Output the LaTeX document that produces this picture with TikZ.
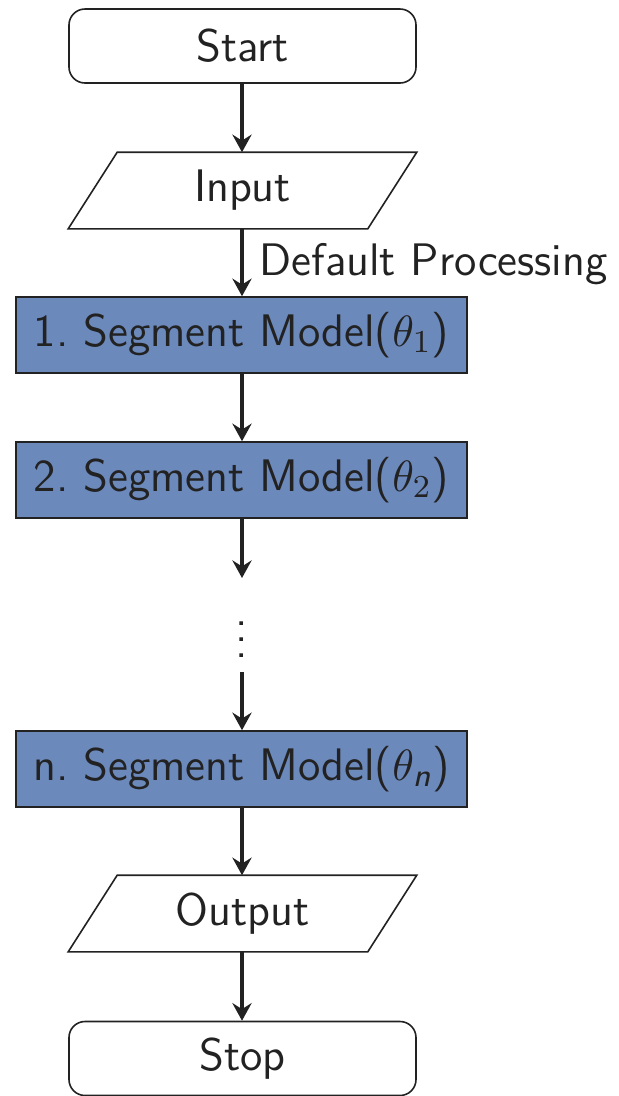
\documentclass[tikz,border=0pt]{standalone}
\usepackage{amsmath}
\usepackage{fontspec}
\usetikzlibrary{arrows.meta,positioning}
\definecolor{segblue}{RGB}{108,137,188}
\definecolor{ink}{RGB}{34,34,34}
\begin{document}
\begin{tikzpicture}[x=0.25pt,y=-0.25pt,
  font=\fontsize{11.4}{13.6}\selectfont\sffamily,
  every node/.style={text=ink},
  terminal/.style={draw=ink,line width=0.4pt,rounded corners=4pt,
    minimum width=86.75pt,minimum height=18.5pt,inner sep=0pt},
  iobox/.style={minimum width=86.75pt,minimum height=18.75pt,inner sep=0pt},
  segbox/.style={draw=ink,line width=0.4pt,fill=segblue,
    minimum width=112.75pt,minimum height=19pt,inner sep=0pt},
  flow/.style={draw=ink,line width=0.8pt,
    -{Stealth[length=4.4pt,width=4.8pt,inset=1.5pt]}},
  ioline/.style={draw=ink,line width=0.4pt}]
\useasboundingbox (0,0) rectangle (619,1096);

% flowchart nodes
\node[terminal] (start) at (242.5,46) {Start};
\node[iobox] (in) at (242.5,190.5) {Input};
\node[segbox] (s1) at (241.5,335) {1.\ Segment Model($\theta_1$)};
\node[segbox] (s2) at (241.5,480) {2.\ Segment Model($\theta_2$)};
\coordinate (gapa) at (242,578);
\node[inner sep=0pt] (dots) at (242,628) {\vdots};
\coordinate (gapb) at (242,672);
\node[segbox] (sn) at (241.5,769) {n.\ Segment Model($\theta_{\text{\itshape n}}$)};
\node[iobox] (out) at (242.5,913.5) {Output};
\node[terminal] (stop) at (242.5,1058.5) {Stop};

% parallelogram outlines for input and output
\foreach \n in {in,out}{
  \draw[ioline] ([xshift=12.25pt]\n.north west) -- (\n.north east)
    -- ([xshift=-12.25pt]\n.south east) -- (\n.south west) -- cycle;
}

% connectors
\draw[flow] (start.south -| 242,0) -- (in.north -| 242,0);
\draw[flow] (in.south -| 242,0) -- node[right,inner sep=4pt,yshift=-0.5pt]{Default Processing} (s1.north -| 242,0);
\draw[flow] (s1.south -| 242,0) -- (s2.north -| 242,0);
\draw[flow] (s2.south -| 242,0) -- (gapa);
\draw[flow] (gapb) -- (sn.north -| 242,0);
\draw[flow] (sn.south -| 242,0) -- (out.north -| 242,0);
\draw[flow] (out.south -| 242,0) -- (stop.north -| 242,0);
\end{tikzpicture}
\end{document}
